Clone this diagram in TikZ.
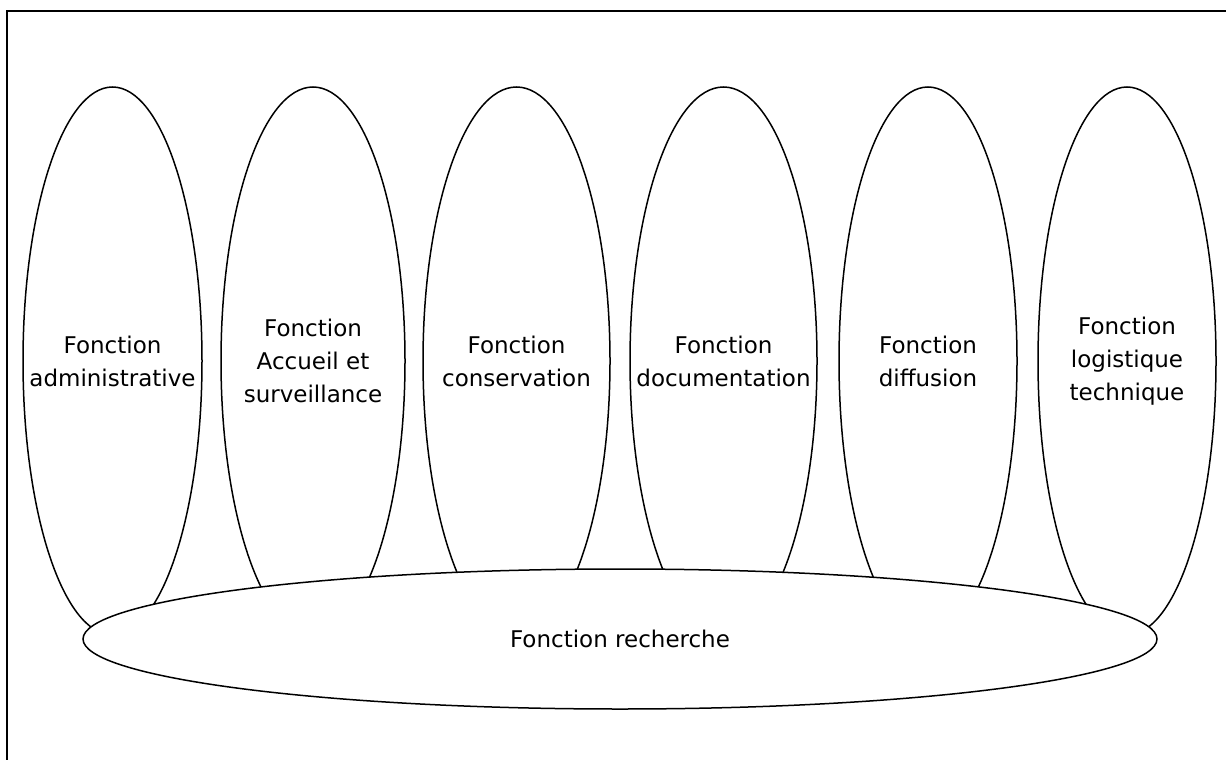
\documentclass[tikz,border=0pt]{standalone}
\usepackage{fontspec}
\setmainfont{DejaVu Sans}
\usetikzlibrary{shapes.geometric}
\tikzset{
  fn/.style={draw=black, line width=1.5pt, ellipse, inner sep=0pt},
  big/.style={draw=black, fill=white, line width=1.5pt, ellipse, inner sep=0pt, minimum width=1074pt, minimum height=140pt},
  lbl/.style={align=center, inner sep=0pt, font=\fontsize{23}{33}\selectfont},
  frame/.style={draw=black, line width=2pt}
}
\begin{document}
\begin{tikzpicture}[x=1pt,y=-1pt]
\useasboundingbox (0,0) rectangle (1226,760);
\coordinate (fbl) at (7,762);
\coordinate (ftl) at (7,11);
\coordinate (ftr) at (1228,11);
\draw[frame] (fbl) -- (ftl) -- (ftr);
% vertical ellipses
\node[fn, minimum width=179pt, minimum height=548pt] (e1) at (112.5,361) {};
\node[fn, minimum width=184pt, minimum height=548pt] (e2) at (313,361) {};
\node[fn, minimum width=187pt, minimum height=548pt] (e3) at (516.5,361) {};
\node[fn, minimum width=187pt, minimum height=548pt] (e4) at (723.5,361) {};
\node[fn, minimum width=178pt, minimum height=548pt] (e5) at (928,361) {};
\node[fn, minimum width=178pt, minimum height=548pt] (e6) at (1127,361) {};
\node[lbl] (t1) at (e1) {Fonction\\administrative};
\node[lbl] (t2) at (e2) {Fonction\\Accueil et\\surveillance};
\node[lbl] (t3) at (e3) {Fonction\\conservation};
\node[lbl] (t4) at (e4) {Fonction\\documentation};
\node[lbl] (t5) at (e5) {Fonction\\diffusion};
\node[lbl] (t6) at (e6) {Fonction\\logistique\\technique};
% bottom ellipse
\node[big] (r) at (620,639) {};
\node[lbl] (tr) at (r) {Fonction recherche};
\end{tikzpicture}
\end{document}
